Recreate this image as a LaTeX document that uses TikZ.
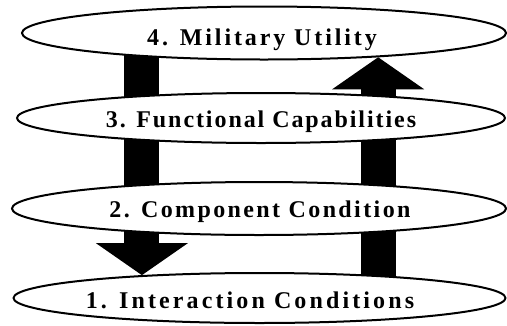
\documentclass[tikz,border=0pt]{standalone}
\usepackage{fontspec}
\setmainfont{Liberation Serif}
\newfontfamily\lblfont{Liberation Serif Bold}
\usetikzlibrary{shapes.geometric,arrows.meta}
\pgfdeclarelayer{bg}
\pgfsetlayers{bg,main}
\begin{document}
\begin{tikzpicture}[x=1pt,y=-1pt,
  level/.style={ellipse, draw, line width=2pt, fill=white, inner sep=0pt},
  lbl/.style={font=\lblfont\addfontfeature{LetterSpace=#1}\fontsize{24}{28}\selectfont, inner sep=0pt, anchor=base},
  bigarrow/.style={line width=35pt, -{Triangle[length=32pt,width=92pt,line width=0pt]}}]
\useasboundingbox (0,0) rectangle (507,325);
\node[level, minimum width=484pt, minimum height=53pt] (n4) at (264,33) {};
\node[level, minimum width=488pt, minimum height=50pt] (n3) at (261,118) {};
\node[level, minimum width=494pt, minimum height=53pt] (n2) at (259,208.5) {};
\node[level, minimum width=492pt, minimum height=50pt] (n1) at (259.5,298) {};
\node[lbl=12] (t4) at (262,45) {4. Military Utility};
\node[lbl=8] (t3) at (261,127) {3. Functional Capabilities};
\node[lbl=10] (t2) at (260,217) {2. Component Condition};
\node[lbl=13] (t1) at (250,308) {1. Interaction Conditions};
\begin{pgfonlayer}{bg}
\draw[bigarrow] (n4.center -| n1.169) -- (n1.169);
\draw[bigarrow] (n1.center -| n4.348) -- (n4.348);
\end{pgfonlayer}
\end{tikzpicture}
\end{document}
